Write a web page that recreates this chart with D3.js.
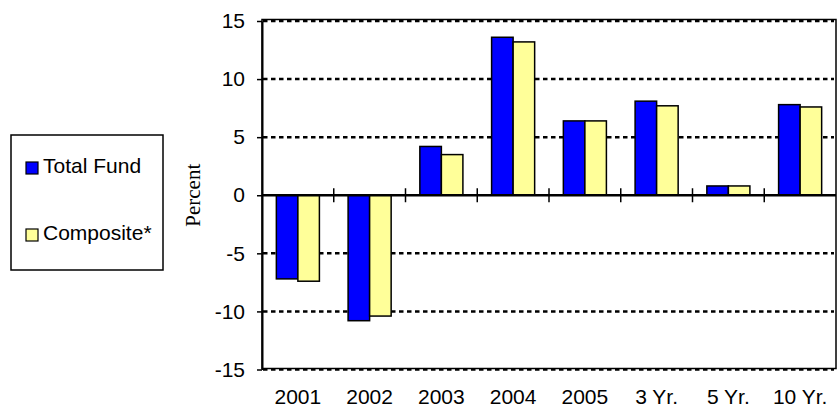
<!DOCTYPE html>
<html>
<head>
<meta charset="utf-8">
<script src="https://cdn.jsdelivr.net/npm/d3@7"></script>
<style>
  body { margin: 0; background: #fff; }
  svg { display: block; }
</style>
</head>
<body>
<svg id="chart" width="838" height="411"></svg>
<script>
// Annual and trailing-period returns, in percent
const categories = ["2001", "2002", "2003", "2004", "2005", "3 Yr.", "5 Yr.", "10 Yr."];
const seriesNames = ["Total Fund", "Composite*"];
const totalFund = [-7.2, -10.8, 4.2, 13.6, 6.4, 8.1, 0.8, 7.8];
const composite = [-7.4, -10.4, 3.5, 13.2, 6.4, 7.7, 0.8, 7.6];
const yTicks = [-15, -10, -5, 0, 5, 10, 15];
const seriesColors = ["#0000FF", "#FFFF99"];

const svg = d3.select("#chart");
const plot = { left: 262, right: 836, top: 19.5, bottom: 368.5 };
const font = "'Liberation Sans', Arial, Helvetica, sans-serif";
const fontSize = 21;

const rows = categories.map((c, i) => ({ cat: c, values: [totalFund[i], composite[i]] }));

const x0 = d3.scaleBand().domain(categories).range([plot.left, plot.right]).padding(0);
const bw = x0.bandwidth();
const x1 = d3.scaleBand().domain(seriesNames).range([bw * 0.2, bw * 0.8]).padding(0);
const y = d3.scaleLinear().domain([-15, 15]).range([369.5, 21]);

// dashed gridlines
svg.append("g")
  .selectAll("line")
  .data(yTicks.filter(v => v !== 0))
  .join("line")
  .attr("x1", plot.left + 1)
  .attr("x2", plot.right - 2)
  .attr("y1", d => y(d))
  .attr("y2", d => y(d))
  .attr("stroke", "#000")
  .attr("stroke-width", 2.5)
  .attr("stroke-dasharray", "4.5,3.5");

// grouped bars
const groups = svg.append("g")
  .selectAll("g")
  .data(rows)
  .join("g")
  .attr("transform", d => `translate(${x0(d.cat)},0)`);

groups.selectAll("rect")
  .data(d => d.values.map((v, j) => ({ name: seriesNames[j], v, j })))
  .join("rect")
  .attr("x", d => x1(d.name))
  .attr("width", x1.bandwidth())
  .attr("y", d => y(Math.max(0, d.v)))
  .attr("height", d => Math.abs(y(d.v) - y(0)))
  .attr("fill", d => seriesColors[d.j])
  .attr("stroke", "#000")
  .attr("stroke-width", 1.5);

// zero line with category separator ticks
const y0 = y(0);
svg.append("line")
  .attr("x1", plot.left).attr("x2", plot.right)
  .attr("y1", y0).attr("y2", y0)
  .attr("stroke", "#000").attr("stroke-width", 2.5);

svg.append("g")
  .selectAll("line")
  .data(categories.slice(1))
  .join("line")
  .attr("x1", d => x0(d)).attr("x2", d => x0(d))
  .attr("y1", y0 - 7).attr("y2", y0 + 7)
  .attr("stroke", "#000").attr("stroke-width", 1.5);

// plot frame
svg.append("rect")
  .attr("x", plot.left).attr("y", plot.top)
  .attr("width", plot.right - plot.left).attr("height", plot.bottom - plot.top)
  .attr("fill", "none").attr("stroke", "#000").attr("stroke-width", 1.5);

// y axis (plain hyphen for negatives)
const yAxis = svg.append("g")
  .attr("transform", `translate(${plot.left},0)`)
  .call(d3.axisLeft(y).tickValues(yTicks).tickFormat(d => String(d))
    .tickSize(5).tickPadding(12).tickSizeOuter(0));
yAxis.select(".domain").attr("stroke-width", 2);
yAxis.selectAll(".tick line").attr("stroke-width", 1.5);
yAxis.selectAll("text")
  .attr("font-family", font).attr("font-size", fontSize).attr("fill", "#000");

// x axis labels
const xAxis = svg.append("g")
  .attr("transform", `translate(0,${plot.bottom})`)
  .call(d3.axisBottom(x0).tickSize(0).tickPadding(21));
xAxis.select(".domain").remove();
xAxis.selectAll("text")
  .attr("font-family", font).attr("font-size", fontSize).attr("fill", "#000");

// y axis title
svg.append("text")
  .attr("transform", `translate(200,${y0}) rotate(-90)`)
  .attr("text-anchor", "middle")
  .attr("font-family", "'Liberation Serif', 'Times New Roman', serif")
  .attr("font-size", 21)
  .text("Percent");

// legend
const legend = svg.append("g");
legend.append("rect")
  .attr("x", 11).attr("y", 135).attr("width", 152).attr("height", 135)
  .attr("fill", "#fff").attr("stroke", "#000").attr("stroke-width", 1.5);

const legendRows = [173, 240];
const items = legend.selectAll("g.item")
  .data(seriesNames)
  .join("g")
  .attr("class", "item")
  .attr("transform", (d, i) => `translate(0,${legendRows[i]})`);
items.append("rect")
  .attr("x", 26).attr("y", -11).attr("width", 12).attr("height", 12)
  .attr("fill", (d, i) => seriesColors[i])
  .attr("stroke", "#000").attr("stroke-width", 1.2);
items.append("text")
  .attr("x", 43).attr("y", 0)
  .attr("font-family", font).attr("font-size", fontSize)
  .text(d => d);
</script>
</body>
</html>
